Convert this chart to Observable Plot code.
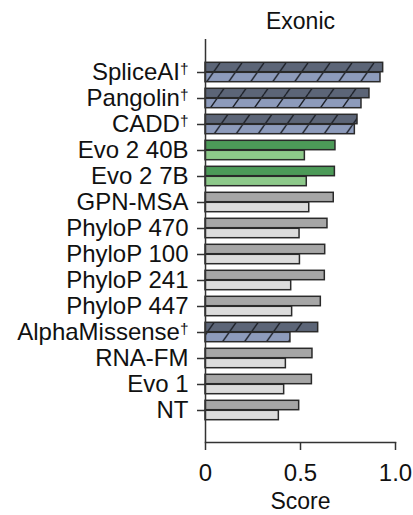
<!DOCTYPE html>
<html><head><meta charset="utf-8">
<script src="https://cdn.jsdelivr.net/npm/d3@7"></script>
<script src="https://cdn.jsdelivr.net/npm/@observablehq/plot@0.6"></script>
<style>
body{margin:0;background:#fff;}
#chart svg{display:block;}
</style>
</head><body><div id="chart"></div>
<script>
const models = ["SpliceAI†","Pangolin†","CADD†","Evo 2 40B","Evo 2 7B","GPN-MSA","PhyloP 470","PhyloP 100","PhyloP 241","PhyloP 447","AlphaMissense†","RNA-FM","Evo 1","NT"];
const topScores = [0.935,0.863,0.800,0.684,0.681,0.675,0.642,0.630,0.628,0.607,0.593,0.563,0.560,0.493];
const bottomScores = [0.921,0.821,0.786,0.523,0.533,0.546,0.495,0.497,0.451,0.456,0.447,0.423,0.414,0.386];
const groups = ["sup","sup","sup","evo2","evo2","other","other","other","other","other","sup","other","other","other"];
const xTicks = [0, 0.5, 1.0];
const title = "Exonic";
const xLabel = "Score";

const fillKeys = ["sup-top","sup-bottom","evo2-top","evo2-bottom","other-top","other-bottom"];
const fillValues = ["url(#hatchTop)","url(#hatchBottom)","#4c9a58","#8dc98a","#a6a6a6","#dcdcdc"];

const data = models.map((m, i) => ({model: m, top: topScores[i], bottom: bottomScores[i], group: groups[i]}));

const FONT = "'Liberation Sans', Arial, Helvetica, sans-serif";
const FS = 24;

const plot = Plot.plot({
  width: 413,
  height: 515,
  marginLeft: 205,
  marginRight: 18,
  marginTop: 39,
  marginBottom: 73,
  style: {fontFamily: FONT, fontSize: FS + "px", color: "#111", background: "#fff"},
  x: {domain: [0, 1]},
  y: {domain: models, range: [54.4, 427.3], padding: 0},
  color: {type: "ordinal", domain: fillKeys, range: fillValues},
  marks: [
    Plot.barX(data, {x: "top", y: "model", fill: d => d.group + "-top", stroke: "#2a2a2a", strokeWidth: 1.5, insetTop: 3.3, insetBottom: 13.3}),
    Plot.barX(data, {x: "bottom", y: "model", fill: d => d.group + "-bottom", stroke: "#2a2a2a", strokeWidth: 1.5, insetTop: 13.3, insetBottom: 3.3}),
    Plot.ruleX([0], {stroke: "#333", strokeWidth: 1.5}),
    Plot.frame({anchor: "bottom", stroke: "#333", strokeWidth: 1.5}),
    Plot.axisY({tickSize: 8, tickPadding: 9, fontSize: FS, label: null, stroke: "#333", strokeWidth: 1.5, tickFormat: d => d}),
    Plot.axisX({ticks: xTicks, tickSize: 8, tickPadding: 13, fontSize: FS, label: null, stroke: "#333", strokeWidth: 1.5, tickFormat: d => d === 0 ? "0" : d.toFixed(1)}),
    Plot.text([xLabel], {frameAnchor: "bottom", lineAnchor: "middle", text: d => d, dy: 59, fontSize: FS - 1, fill: "#111"}),
    Plot.text([title], {frameAnchor: "top", lineAnchor: "middle", text: d => d, dy: -18, fontSize: FS - 1, fill: "#111"})
  ]
});

// hatch patterns
const ns = "http://www.w3.org/2000/svg";
const defs = document.createElementNS(ns, "defs");
function addPattern(id, bg) {
  const W = 22, H = 31.4;
  const p = document.createElementNS(ns, "pattern");
  p.setAttribute("id", id);
  p.setAttribute("patternUnits", "userSpaceOnUse");
  p.setAttribute("width", W);
  p.setAttribute("height", H);
  const r = document.createElementNS(ns, "rect");
  r.setAttribute("width", W); r.setAttribute("height", H); r.setAttribute("fill", bg);
  const path = document.createElementNS(ns, "path");
  path.setAttribute("d", `M${-W},${H} L0,0 M0,${H} L${W},0 M${W},${H} L${2*W},0`);
  path.setAttribute("stroke", "#1c2028");
  path.setAttribute("stroke-width", "1.4");
  p.appendChild(r); p.appendChild(path);
  defs.appendChild(p);
}
addPattern("hatchTop", "#5c6577");
addPattern("hatchBottom", "#8d9bbb");
plot.insertBefore(defs, plot.firstChild);

// superscript daggers in y tick labels
plot.querySelectorAll("text").forEach(t => {
  const s = t.textContent;
  if (s.endsWith("†") && t.children.length === 0) {
    t.textContent = s.slice(0, -1);
    const ts = document.createElementNS(ns, "tspan");
    ts.setAttribute("font-size", "0.64em");
    ts.setAttribute("dy", "-0.42em");
    ts.textContent = "†";
    t.appendChild(ts);
  }
});

document.getElementById("chart").appendChild(plot);
</script>
</body></html>
